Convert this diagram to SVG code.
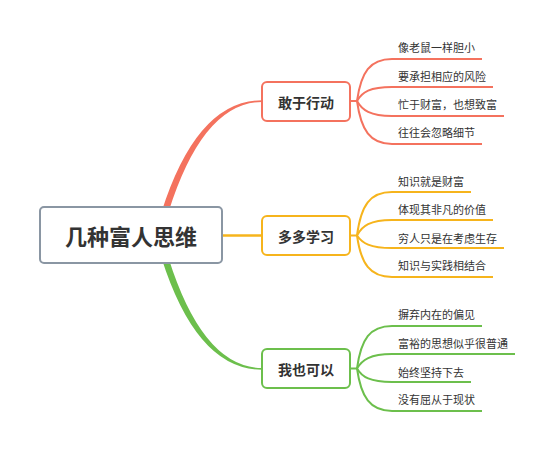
<svg xmlns="http://www.w3.org/2000/svg" width="554" height="451" viewBox="0 0 554 451">
<style>
text{font-family:"Noto Sans CJK SC","Noto Sans",sans-serif;fill:#333;dominant-baseline:central}
.leaf{font-size:11px}
.main{font-size:14px;font-weight:bold;text-anchor:middle}
.root{font-size:22px;font-weight:bold;text-anchor:middle}
.lr{fill:none;stroke:#F4725E;stroke-width:2}
.lo{fill:none;stroke:#F6B41C;stroke-width:2}
.lg{fill:none;stroke:#6CBF4C;stroke-width:2}
</style>
<rect width="554" height="451" fill="#fff"/>
<g id="connectors">
<path d="M161.5,212 Q197,100.3 262,100.3 L262,102 Q203,102.5 168.5,212 Z" fill="#F4725E"/>
<path d="M161.5,258 Q197,369.7 262,369.7 L262,368 Q203,367.5 168.5,258 Z" fill="#6CBF4C"/>
<line x1="222" y1="235.5" x2="262" y2="235.5" stroke="#F6B41C" stroke-width="2.5"/>
<path class="lr" d="M350,101 H357 C361,72 370,59 392,59 H482"/>
<path class="lr" d="M357,101 C362,92 370,87 392,87 H493"/>
<path class="lr" d="M357,101 C362,110 370,116 392,116 H504"/>
<path class="lr" d="M357,101 C361,130 370,144 392,144 H482"/>
<path class="lo" d="M350,235.5 H357 C361,205 370,192 392,192 H471"/>
<path class="lo" d="M357,235.5 C362,226 370,220 392,220 H493"/>
<path class="lo" d="M357,235.5 C362,243 370,248 392,248 H504"/>
<path class="lo" d="M357,235.5 C361,264 370,277 392,277 H493"/>
<path class="lg" d="M350,368.5 H357 C361,339 370,326 392,326 H482"/>
<path class="lg" d="M357,368.5 C362,360 370,354 392,354 H515"/>
<path class="lg" d="M357,368.5 C362,377 370,382 392,382 H471"/>
<path class="lg" d="M357,368.5 C361,397 370,411 392,411 H482"/>
</g>
<g id="root">
<rect x="40" y="207" width="182" height="56" rx="4" fill="#fff" stroke="#8A96A3" stroke-width="2"/>
<text class="root" x="131" y="235">几种富人思维</text>
</g>
<g id="b1">
<rect x="262" y="82" width="88" height="39" rx="5" fill="#fff" stroke="#F4725E" stroke-width="2"/>
<text class="main" x="306" y="101.5">敢于行动</text>
</g>
<g id="b2">
<rect x="262" y="216" width="88" height="39" rx="5" fill="#fff" stroke="#F6B41C" stroke-width="2"/>
<text class="main" x="306" y="235.5">多多学习</text>
</g>
<g id="b3">
<rect x="262" y="349" width="88" height="39" rx="5" fill="#fff" stroke="#6CBF4C" stroke-width="2"/>
<text class="main" x="306" y="368.5">我也可以</text>
</g>
<g id="l1"><text class="leaf" x="398" y="47">像老鼠一样胆小</text></g>
<g id="l2"><text class="leaf" x="398" y="76">要承担相应的风险</text></g>
<g id="l3"><text class="leaf" x="398" y="104">忙于财富，也想致富</text></g>
<g id="l4"><text class="leaf" x="398" y="132">往往会忽略细节</text></g>
<g id="l5"><text class="leaf" x="398" y="181">知识就是财富</text></g>
<g id="l6"><text class="leaf" x="398" y="209">体现其非凡的价值</text></g>
<g id="l7"><text class="leaf" x="398" y="238">穷人只是在考虑生存</text></g>
<g id="l8"><text class="leaf" x="398" y="265">知识与实践相结合</text></g>
<g id="l9"><text class="leaf" x="398" y="314">摒弃内在的偏见</text></g>
<g id="l10"><text class="leaf" x="398" y="343">富裕的思想似乎很普通</text></g>
<g id="l11"><text class="leaf" x="398" y="372">始终坚持下去</text></g>
<g id="l12"><text class="leaf" x="398" y="399">没有屈从于现状</text></g>
</svg>
